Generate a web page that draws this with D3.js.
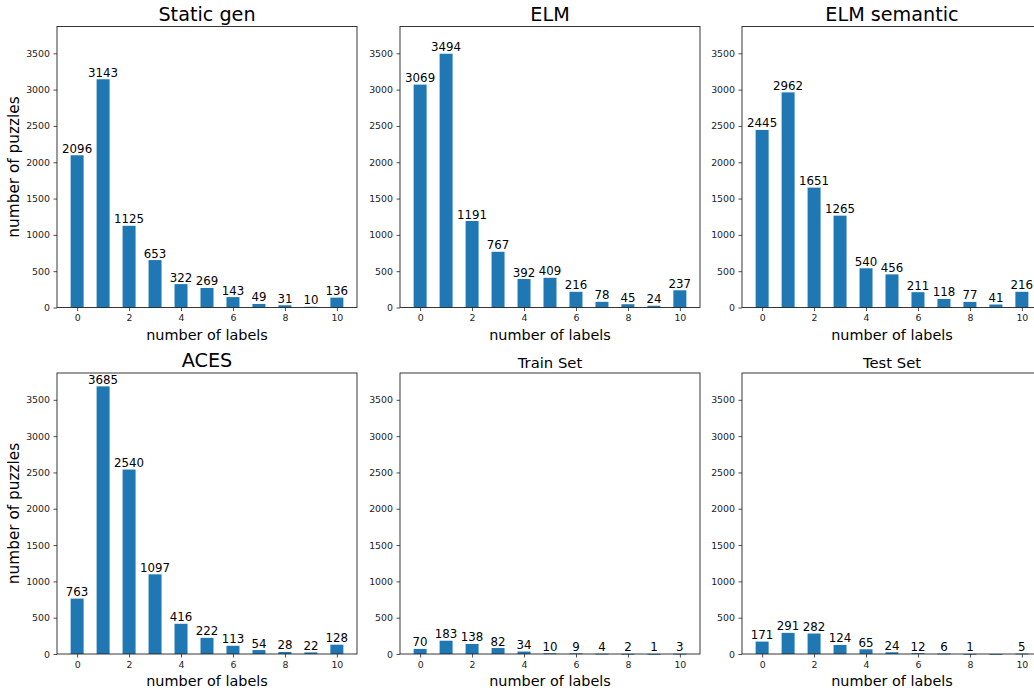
<!DOCTYPE html>
<html>
<head>
<meta charset="utf-8">
<script src="https://cdn.jsdelivr.net/npm/d3@7/dist/d3.min.js"></script>
<style>
  html, body { margin: 0; padding: 0; background: #fff; }
  svg { display: block; font-family: "DejaVu Sans", sans-serif; }
</style>
</head>
<body>
<svg id="chart" width="1034" height="692"></svg>
<script>
const categories = [0, 1, 2, 3, 4, 5, 6, 7, 8, 9, 10];
const xTickValues = [0, 2, 4, 6, 8, 10];
const yTickValues = [0, 500, 1000, 1500, 2000, 2500, 3000, 3500];

const titles = ["Static gen", "ELM", "ELM semantic", "ACES", "Train Set", "Test Set"];
const staticGen   = [2096, 3143, 1125, 653, 322, 269, 143, 49, 31, 10, 136];
const elm         = [3069, 3494, 1191, 767, 392, 409, 216, 78, 45, 24, 237];
const elmSemantic = [2445, 2962, 1651, 1265, 540, 456, 211, 118, 77, 41, 216];
const aces        = [763, 3685, 2540, 1097, 416, 222, 113, 54, 28, 22, 128];
const trainSet    = [70, 183, 138, 82, 34, 10, 9, 4, 2, 1, 3];
const testSet     = [171, 291, 282, 124, 65, 24, 12, 6, 1, 0, 5];
const seriesList = [staticGen, elm, elmSemantic, aces, trainSet, testSet];
const bigTitle = [true, true, true, true, false, false];

const svg = d3.select("#chart");
const barColor = "#1f77b4";
const barWidth = 0.5;
const yMax = 3685 * 1.05;
const xPad = 0.05 * (10 + barWidth);

const colLeft = [57, 400, 742];
const rowTop = [26.5, 373];
const W = 300, H = 281;

seriesList.forEach((vals, i) => {
  const col = i % 3, row = Math.floor(i / 3);
  const left = colLeft[col], top = rowTop[row];
  const g = svg.append("g").attr("transform", `translate(${left},${top})`);

  const x = d3.scaleLinear()
    .domain([-barWidth / 2 - xPad, 10 + barWidth / 2 + xPad])
    .range([0, W]);
  const y = d3.scaleLinear().domain([0, yMax]).range([H, 0]);

  // bars
  g.selectAll("rect.bar").data(categories).enter().append("rect")
    .attr("class", "bar")
    .attr("x", d => x(d - barWidth / 2))
    .attr("width", d => x(d + barWidth / 2) - x(d - barWidth / 2))
    .attr("y", d => y(vals[d]))
    .attr("height", d => Math.max(0.8, y(0) - y(vals[d])))
    .attr("fill", barColor);

  // bar labels
  g.selectAll("text.blabel").data(categories.filter(d => vals[d] > 0)).enter().append("text")
    .attr("class", "blabel")
    .attr("x", d => x(d))
    .attr("y", d => y(vals[d]) - 2.5)
    .attr("text-anchor", "middle")
    .attr("font-size", "11.8px")
    .attr("fill", "#000")
    .text(d => vals[d]);

  // axes
  const xAxis = d3.axisBottom(x).tickValues(xTickValues).tickFormat(d3.format("d")).tickSize(3.5).tickPadding(3.5);
  const gx = g.append("g").attr("transform", `translate(0,${H})`).call(xAxis);
  gx.select(".domain").remove();
  gx.selectAll("text").attr("font-size", "9.4px").attr("font-family", "DejaVu Sans").attr("fill", "#222");
  gx.selectAll("line").attr("stroke", "#222").attr("stroke-width", 0.8);

  const yAxis = d3.axisLeft(y).tickValues(yTickValues).tickFormat(d3.format("d")).tickSize(3.5).tickPadding(3.5);
  const gy = g.append("g").call(yAxis);
  gy.select(".domain").remove();
  gy.selectAll("text").attr("font-size", "9.4px").attr("font-family", "DejaVu Sans").attr("fill", "#222");
  gy.selectAll("line").attr("stroke", "#222").attr("stroke-width", 0.8);

  // frame
  g.append("rect").attr("x", 0).attr("y", 0).attr("width", W).attr("height", H)
    .attr("fill", "none").attr("stroke", "#222").attr("stroke-width", 0.9);

  // title
  g.append("text")
    .attr("x", W / 2)
    .attr("y", bigTitle[i] ? -6 : -5.5)
    .attr("text-anchor", "middle")
    .attr("font-size", bigTitle[i] ? "19.2px" : "14.8px")
    .attr("fill", "#000")
    .text(titles[i]);

  // x label
  g.append("text")
    .attr("x", W / 2)
    .attr("y", H + 32)
    .attr("text-anchor", "middle")
    .attr("font-size", "14.4px")
    .attr("fill", "#000")
    .text("number of labels");

  // y label (first column only)
  if (col === 0) {
    g.append("text")
      .attr("transform", `translate(${-38},${H / 2}) rotate(-90)`)
      .attr("text-anchor", "middle")
      .attr("font-size", "15.3px")
      .attr("fill", "#000")
      .text("number of puzzles");
  }
});
</script>
</body>
</html>
